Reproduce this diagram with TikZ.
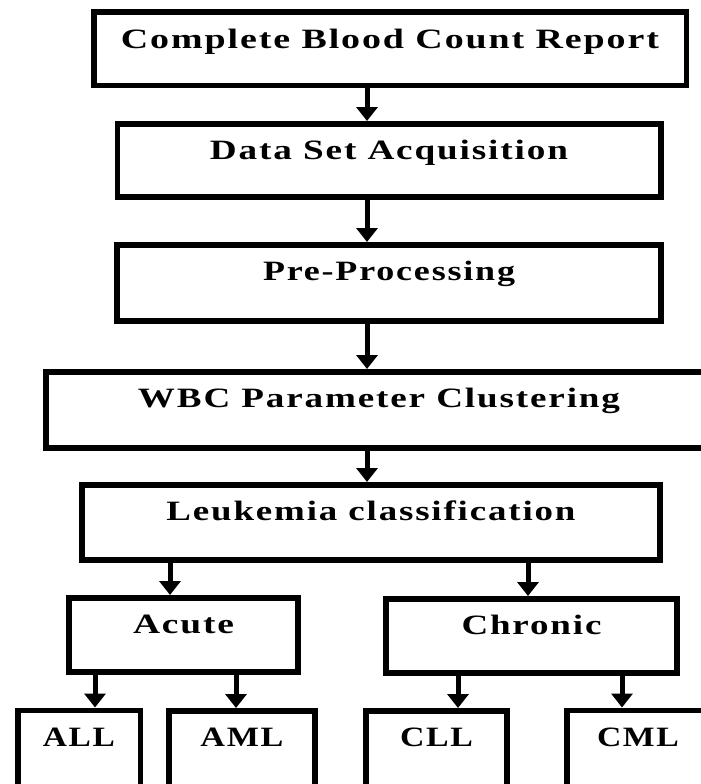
\documentclass[tikz,border=0pt]{standalone}
\usepackage{fontspec}
\setmainfont{Liberation Serif}[LetterSpace=5]
\usetikzlibrary{arrows.meta}
% stretch a label to a given width, keeping its height
\newcommand\fitw[2]{\resizebox{#1}{\height}{#2}}
\begin{document}
\begin{tikzpicture}[x=1pt,y=-1pt,
  box/.style={draw, line width=5.5pt, inner sep=0pt, text height=36pt,
    text depth=39pt, font=\fontsize{28}{32}\selectfont\bfseries},
  leaf/.style={box, text depth=110pt},
  arr/.style={line width=5pt, -{Triangle[width=21pt,length=14pt]}}]
\useasboundingbox (0,0) rectangle (701,784);
\clip (0,0) rectangle (701,784);
\fill[white] (0,0) rectangle (701,784);

% main chain
\node[box, anchor=north, minimum width=592.5pt, text depth=37pt] (cbc) at (390,9.5)
  {\fitw{538pt}{Complete Blood Count Report}};
\node[box, anchor=north, minimum width=543.5pt, text depth=37pt] (acq) at (389,121)
  {\fitw{358pt}{Data Set Acquisition}};
\node[box, anchor=north, minimum width=544pt, text depth=40pt] (pre) at (389,242)
  {\fitw{252pt}{Pre-Processing}};
\node[box, anchor=north, minimum width=666pt, text depth=40pt] (wbc) at (379,369)
  {\fitw{482pt}{WBC Parameter Clustering}};
\node[box, anchor=north, minimum width=578pt] (leuk) at (371,482)
  {\fitw{409pt}{Leukemia classification}};

% two branches
\node[box, anchor=north, minimum width=229pt, text depth=38pt] (acute) at (183.5,595)
  {\fitw{101pt}{Acute}};
\node[box, anchor=north, minimum width=291pt, text depth=38pt] (chronic) at (531.5,596)
  {\fitw{140pt}{Chronic}};

% leaf types
\node[leaf, anchor=north, minimum width=122.5pt] (all) at (79,707.5)
  {\fitw{72pt}{ALL}};
\node[leaf, anchor=north, minimum width=146pt] (aml) at (242,708)
  {\fitw{83pt}{AML}};
\node[leaf, anchor=north, minimum width=141pt] (cll) at (436.5,708)
  {\fitw{73pt}{CLL}};
\node[leaf, anchor=north, minimum width=142pt] (cml) at (638,707.5)
  {\fitw{82pt}{CML}};

% arrow columns
\coordinate (mid) at (367,0);
\coordinate (xa) at (170,0);
\coordinate (xc) at (528,0);
\coordinate (xall) at (95,0);
\coordinate (xaml) at (236,0);
\coordinate (xcll) at (458,0);
\coordinate (xcml) at (622,0);

\draw[arr] (cbc.south -| mid) -- (acq.north -| mid);
\draw[arr] (acq.south -| mid) -- (pre.north -| mid);
\draw[arr] (pre.south -| mid) -- (wbc.north -| mid);
\draw[arr] (wbc.south -| mid) -- (leuk.north -| mid);
\draw[arr] (leuk.south -| xa) -- (acute.north -| xa);
\draw[arr] (leuk.south -| xc) -- (chronic.north -| xc);
\draw[arr] (acute.south -| xall) -- (all.north -| xall);
\draw[arr] (acute.south -| xaml) -- (aml.north -| xaml);
\draw[arr] (chronic.south -| xcll) -- (cll.north -| xcll);
\draw[arr] (chronic.south -| xcml) -- (cml.north -| xcml);
\end{tikzpicture}
\end{document}
